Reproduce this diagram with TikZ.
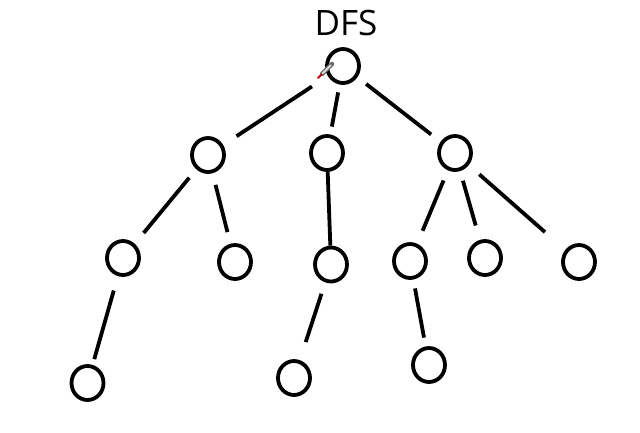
\documentclass[tikz,border=0pt]{standalone}
\usepackage{fontspec}
\setmainfont{Open Sans}
\usetikzlibrary{shapes.geometric,calc}
\begin{document}
\begin{tikzpicture}[x=1pt,y=-1pt,
  vtx/.style={ellipse,draw=black,line width=3.8pt,minimum width=32pt,minimum height=34pt,inner sep=0pt},
  edge/.style={draw=black,line width=3.8pt}]
\useasboundingbox (0,0) rectangle (640,432);
\fill[white] (0,0) rectangle (640,432);
\node[anchor=base,font=\fontsize{35}{40}\selectfont] (title) at (346,35) {DFS};
% level 1
\node[vtx] (r) at (343,66) {};
% level 2
\node[vtx] (l) at (208,155) {};
\node[vtx] (m) at (327,153) {};
\node[vtx] (rr) at (455,153) {};
% level 3
\node[vtx] (a) at (123,258) {};
\node[vtx] (b) at (235,262) {};
\node[vtx] (c) at (331,264.5) {};
\node[vtx] (d) at (410,261) {};
\node[vtx] (e) at (485,258) {};
\node[vtx] (f) at (579,262) {};
% level 4
\node[vtx] (g) at (87.5,383) {};
\node[vtx] (h) at (294,378) {};
\node[vtx] (i) at (429,365) {};
% edges
\draw[edge,shorten <=19pt,shorten >=16pt] (r) -- (l);
\draw[edge,shorten <=8pt,shorten >=8pt] (r) -- (m);
\draw[edge,shorten <=11pt,shorten >=12pt] (r) -- (rr);
\draw[edge,shorten <=11pt,shorten >=14pt] (l) -- (a);
\draw[edge,shorten <=12pt,shorten >=12pt] (l) -- (b);
\draw[edge] (m) -- (c);
\draw[edge,shorten <=11pt,shorten >=14pt] (rr) -- (d);
\draw[edge,shorten <=10pt,shorten >=15pt] (rr) -- (e);
\draw[edge,shorten <=14pt,shorten >=27pt] (rr) -- (f);
\draw[edge,shorten <=15pt,shorten >=6pt] (a) -- (g);
\draw[edge,shorten <=12pt,shorten >=19pt] (c) -- (h);
\draw[edge,shorten <=9pt,shorten >=9pt] (d) -- (i);
% small pencil cursor near the root
\coordinate (pt) at (318,78);
\coordinate (pe) at (332,64);
\draw[line width=4.5pt,gray!80!black,line cap=round] ($(pt)!0.3!(pe)$) -- (pe);
\draw[line width=2pt,gray!30,line cap=round] ($(pt)!0.35!(pe)$) -- ($(pt)!0.9!(pe)$);
\draw[line width=2pt,red!80!black,line cap=round] (pt) -- ($(pt)!0.25!(pe)$);
\end{tikzpicture}
\end{document}
